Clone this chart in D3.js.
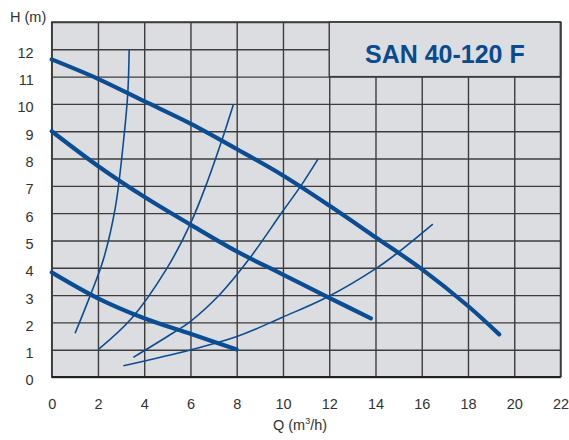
<!DOCTYPE html>
<html>
<head>
<meta charset="utf-8">
<script src="https://cdn.jsdelivr.net/npm/d3@7"></script>
<style>
  html, body { margin: 0; padding: 0; background: #ffffff; }
  svg { display: block; }
  text { font-family: "Liberation Sans", Arial, sans-serif; }
</style>
</head>
<body>
<svg id="chart" width="569" height="440"></svg>
<script>
// ---- data ----
const title = "SAN 40-120 F";
const xTicks = [0, 2, 4, 6, 8, 10, 12, 14, 16, 18, 20, 22];
const yTicks = [0, 1, 2, 3, 4, 5, 6, 7, 8, 9, 10, 11, 12];
const yGrid = [0, 1, 2, 3, 4, 5, 6, 7, 8, 9, 10, 11, 12, 13];

// pump curves (Q m3/h, H m)
const pumpHigh = [[0, 11.63], [2, 10.92], [4, 10.1], [6, 9.28], [8, 8.35], [10, 7.38], [12, 6.28], [14, 5.12], [16, 3.95], [18, 2.6], [19.35, 1.56]];
const pumpMid = [[0, 9.0], [2, 7.73], [4, 6.6], [6, 5.58], [8, 4.6], [10, 3.75], [12, 2.9], [13.8, 2.15]];
const pumpLow = [[0, 3.83], [2, 2.88], [4, 2.15], [6, 1.58], [8, 1.01]];

// system curves
const sysA = [[1.01, 1.6], [1.66, 2.97], [2.23, 4.29], [2.75, 6.2], [3.11, 8.68], [3.29, 10.39], [3.35, 12.0]];
const sysB = [[2.02, 1.01], [3.46, 2.15], [4.94, 3.92], [5.99, 5.6], [6.73, 7.15], [7.35, 8.65], [7.86, 9.99]];
const sysC = [[3.53, 0.72], [5.26, 1.62], [5.99, 2.03], [7.29, 3.04], [8.51, 4.29], [9.98, 6.06], [10.75, 6.97], [11.52, 7.99]];
const sysD = [[3.1, 0.41], [5.99, 0.99], [8.01, 1.48], [9.98, 2.19], [11.9, 2.92], [14.03, 3.98], [14.96, 4.55], [16.48, 5.6]];

// ---- drawing ----
const svg = d3.select("#chart");
const x = d3.scaleLinear().domain([0, 22]).range([51.7, 560.5]);
const y = d3.scaleLinear().domain([0, 13]).range([377, 22]);
const blue = "#0b4d94";
const gridCol = "#3c3c3c";

// background
svg.append("rect")
  .attr("x", x(0)).attr("y", y(13))
  .attr("width", x(22) - x(0)).attr("height", y(0) - y(13))
  .attr("fill", "#dcdde0");

// vertical grid + x labels via axis
const gx = svg.append("g")
  .attr("transform", `translate(0,${y(0)})`)
  .call(d3.axisBottom(x).tickValues(xTicks).tickSize(-(y(0) - y(13))).tickPadding(22).tickFormat(d3.format("d")));
gx.select(".domain").remove();
gx.selectAll(".tick line").attr("stroke", gridCol).attr("stroke-width", 1.4);
gx.selectAll(".tick text").attr("fill", "#333").attr("font-size", 14.5);

// horizontal grid
const gy = svg.append("g")
  .attr("transform", `translate(${x(0)},0)`)
  .call(d3.axisLeft(y).tickValues(yGrid).tickSize(-(x(22) - x(0))).tickPadding(18)
    .tickFormat(d => yTicks.includes(d) ? d : ""));
gy.select(".domain").remove();
gy.selectAll(".tick line").attr("stroke", gridCol).attr("stroke-width", 1.4);
gy.selectAll(".tick text").attr("fill", "#333").attr("font-size", 14.5).attr("dy", "0.55em");

// title box (covers grid inside)
svg.append("rect")
  .attr("x", x(12)).attr("y", y(13))
  .attr("width", x(22) - x(12)).attr("height", y(11) - y(13))
  .attr("fill", "#dcdde0")
  .attr("stroke", gridCol).attr("stroke-width", 1.4);

// frame
svg.append("rect")
  .attr("x", x(0)).attr("y", y(13))
  .attr("width", x(22) - x(0)).attr("height", y(0) - y(13))
  .attr("fill", "none").attr("stroke", gridCol).attr("stroke-width", 1.5);
svg.append("line")
  .attr("x1", x(0)).attr("x2", x(22)).attr("y1", y(0)).attr("y2", y(0))
  .attr("stroke", "#222").attr("stroke-width", 2.2);

// curves
const line = d3.line().x(d => x(d[0])).y(d => y(d[1])).curve(d3.curveCatmullRom.alpha(0.5));
[sysA, sysB, sysC, sysD].forEach(s => {
  svg.append("path").attr("d", line(s)).attr("fill", "none")
    .attr("stroke", blue).attr("stroke-width", 1.6);
});
[pumpHigh, pumpMid, pumpLow].forEach(s => {
  svg.append("path").attr("d", line(s)).attr("fill", "none")
    .attr("stroke", blue).attr("stroke-width", 4.2).attr("stroke-linecap", "round");
});

// title
svg.append("text")
  .attr("x", (x(12) + x(22)) / 2).attr("y", 62.5)
  .attr("text-anchor", "middle")
  .attr("font-size", 25).attr("font-weight", "bold")
  .attr("fill", "#0a4a8f")
  .text(title);

// axis titles
svg.append("text").attr("x", 10).attr("y", 22).attr("font-size", 14.5).attr("fill", "#333").text("H (m)");
const qt = svg.append("text").attr("x", 300).attr("y", 430).attr("text-anchor", "middle")
  .attr("font-size", 14.5).attr("fill", "#333");
qt.append("tspan").text("Q (m");
qt.append("tspan").attr("font-size", 9).attr("dy", -6).text("3");
qt.append("tspan").attr("dy", 6).text("/h)");
</script>
</body>
</html>
